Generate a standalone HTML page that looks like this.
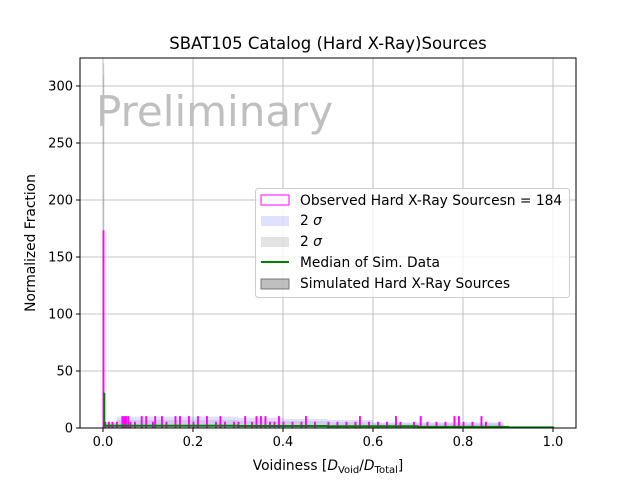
<!DOCTYPE html>
<html><head><meta charset="utf-8"><style>
body{margin:0;background:#fff}
svg{display:block;font-family:"DejaVu Sans","Liberation Sans",sans-serif}
</style></head><body>
<svg id="c" width="640" height="480">
<rect width="640" height="480" fill="#fff"/>
<g id="grid"></g>
<g id="marks"></g>
<rect x="80" y="58" width="496" height="370" fill="none" stroke="#000" stroke-width="1"/>
<g id="axes"></g>
<text x="96" y="126" font-size="42" fill="#bfbfbf">Preliminary</text>
<text x="328" y="49" font-size="16.5" text-anchor="middle">SBAT105 Catalog (Hard X-Ray)Sources</text>
<text x="328" y="470" font-size="13.8" text-anchor="middle">Voidiness [<tspan font-style="italic">D</tspan><tspan font-size="10" dy="3">Void</tspan><tspan dy="-3">/</tspan><tspan font-style="italic">D</tspan><tspan font-size="10" dy="3">Total</tspan><tspan dy="-3">]</tspan></text>
<text transform="translate(35,243) rotate(-90)" font-size="13.8" text-anchor="middle">Normalized Fraction</text>
<g>
<rect x="255.5" y="188.5" width="314" height="109" rx="3" fill="#fff" fill-opacity="0.8" stroke="#ccc"/>
<rect x="261" y="195" width="28" height="10" fill="none" stroke="#ff00ff"/>
<text x="300" y="205" font-size="13.8">Observed Hard X-Ray Sourcesn = 184</text>
<rect x="261" y="216" width="28" height="10" fill="#0000ff" fill-opacity="0.12"/>
<text x="300" y="225" font-size="13.8">2 <tspan font-style="italic">σ</tspan></text>
<rect x="261" y="237" width="28" height="10" fill="#808080" fill-opacity="0.22"/>
<text x="300" y="246" font-size="13.8">2 <tspan font-style="italic">σ</tspan></text>
<line x1="261" y1="262" x2="289" y2="262" stroke="green" stroke-width="2"/>
<text x="300" y="267" font-size="13.8">Median of Sim. Data</text>
<rect x="261" y="279" width="28" height="10" fill="#808080" fill-opacity="0.5" stroke="#777"/>
<text x="300" y="288" font-size="13.8">Simulated Hard X-Ray Sources</text>
</g>
</svg>
<script>
const xTicks=[0,0.2,0.4,0.6,0.8,1.0];
const xTickLabels=["0.0","0.2","0.4","0.6","0.8","1.0"];
const yTicks=[0,50,100,150,200,250,300];
const binWidth=0.002;
const obsPos=[0,0.004,0.012,0.02,0.03,0.042,0.046,0.05,0.055,0.06,0.07,0.085,0.095,0.11,0.115,0.13,0.14,0.16,0.17,0.19,0.2,0.21,0.23,0.25,0.26,0.27,0.29,0.3,0.315,0.33,0.34,0.35,0.36,0.37,0.38,0.39,0.4,0.42,0.44,0.45,0.47,0.5,0.52,0.54,0.56,0.57,0.59,0.61,0.63,0.65,0.66,0.69,0.705,0.72,0.74,0.76,0.78,0.79,0.8,0.82,0.84,0.85,0.88];
const obsVal=[173,5,5,5,5,10,10,10,10,5,5,10,10,5,10,10,5,10,10,10,5,10,10,5,10,5,5,5,10,5,10,10,10,5,5,10,5,5,5,10,5,5,5,5,5,10,5,5,5,10,5,5,10,5,5,5,10,10,5,5,10,5,5];
const bandX=[0,0.003,0.03,0.1,0.2,0.3,0.4,0.5,0.6,0.7,0.8,0.88,0.89,1.0];
const blueHi=[320,5,10,10,10,9,8,7,5,5,5,5,0,0];
const grayHi=[310,4,7,7,7,6,6,5,4,4,4,4,0,0];
const medX=[0,0.003,0.1,0.3,0.5,0.7,0.9,1.0];
const medVal=[30,2,2,1.8,1.5,1,0.5,0];
const X=v=>103+v*450, Y=v=>428-v*1.14;
const NS="http://www.w3.org/2000/svg";
const mk=(p,t,a)=>{const e=document.createElementNS(NS,t);for(const k in a)e.setAttribute(k,a[k]);p.appendChild(e);return e;};
const grid=document.getElementById('grid'),axes=document.getElementById('axes'),marks=document.getElementById('marks');
xTicks.forEach((t,i)=>{
 const g=mk(grid,'line',{x1:X(t),x2:X(t),y1:58,y2:428,stroke:'#b0b0b0','stroke-width':0.8});
 
 
 mk(axes,'line',{x1:X(t),x2:X(t),y1:428,y2:432,stroke:'#000'});
 const tx=mk(axes,'text',{x:X(t),y:446,'font-size':13,'text-anchor':'middle'});tx.textContent=xTickLabels[i];
 
 
});
yTicks.forEach(t=>{
 const g=mk(grid,'line',{x1:80,x2:576,y1:Y(t),y2:Y(t),stroke:'#b0b0b0','stroke-width':0.8});
 
 
 mk(axes,'line',{x1:76,x2:80,y1:Y(t),y2:Y(t),stroke:'#000'});
 const tx=mk(axes,'text',{x:73,y:Y(t)+4.5,'font-size':13,'text-anchor':'end'});tx.textContent=t;
 
 
});
function band(arr,fill,op,name){
 let d='M'+X(bandX[0])+','+Y(0);
 arr.forEach((v,i)=>{d+=' L'+X(bandX[i])+','+Y(v);if(i<arr.length-1)d+=' L'+X(bandX[i+1])+','+Y(v);});
 d+=' L'+X(1)+','+Y(0)+' Z';
 const p=mk(marks,'path',{d:d,fill:fill,'fill-opacity':op});
 
 
}
band(blueHi,'#0000ff',0.12,'blue-sigma-band');
band(grayHi,'#808080',0.2,'gray-sigma-band');
obsPos.forEach((p,i)=>{
 const r=mk(marks,'rect',{x:X(p),y:Y(obsVal[i]),width:binWidth*450,height:Y(0)-Y(obsVal[i]),fill:'none',stroke:'#ff00ff','stroke-width':1});
 
 
});
let d='';medX.forEach((v,i)=>{d+=(i?' L':'M')+X(v)+','+Y(medVal[i]);if(i<medX.length-1)d+=' L'+X(medX[i+1])+','+Y(medVal[i]);});
const m=mk(marks,'path',{d:d,fill:'none',stroke:'green','stroke-width':2});


</script>
</body></html>
